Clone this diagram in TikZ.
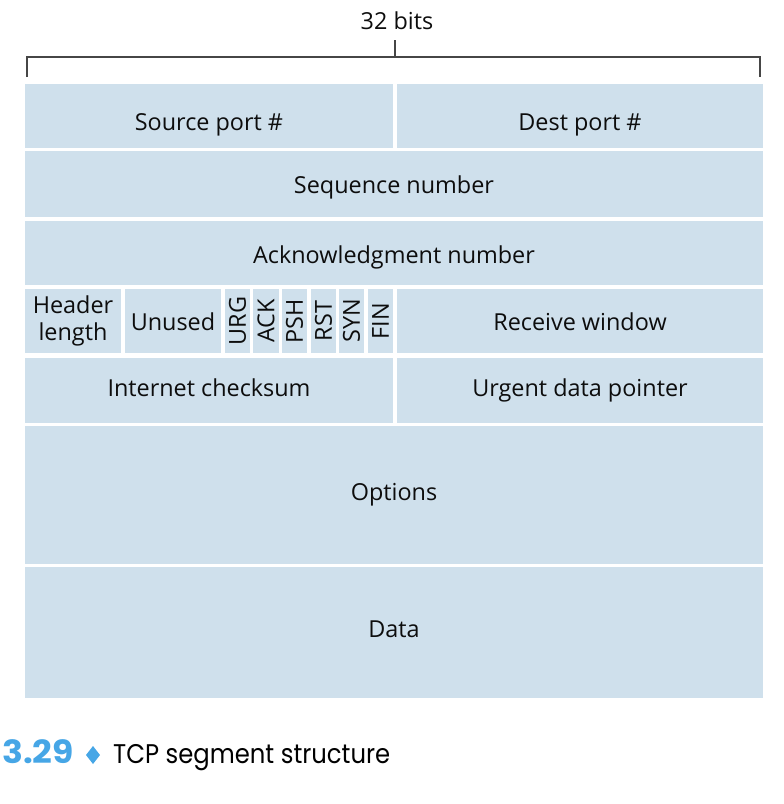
\documentclass[tikz,border=0pt]{standalone}
\usepackage{fontspec}
\setmainfont{Open Sans}
\newfontfamily\capfont{Poppins}
\definecolor{cellblue}{RGB}{207,224,236}
\definecolor{capblue}{RGB}{70,166,230}
\definecolor{linegray}{RGB}{70,70,70}
\begin{document}
\begin{tikzpicture}[x=1pt,y=-1pt,
  cell/.style={fill=cellblue,draw=none,inner sep=0pt,align=center,
    font=\fontsize{23.4}{27}\selectfont,text=black!95,
    text height=16.6pt,text depth=0pt},
  multi/.style={text height=,text depth=},
  flag/.style={cell,rotate=90},
  brk/.style={draw=linegray,line width=1.1pt}]
\useasboundingbox (0,0) rectangle (784,804);
% title and bracket
\node[font=\fontsize{23.4}{27}\selectfont,text=black!95] (title) at (397,21) {32 bits};
\coordinate (tick) at (395,40);
\coordinate (tickb) at (395,57);
\coordinate (bl) at (27,77);
\coordinate (blt) at (27,57);
\coordinate (br) at (760,77);
\coordinate (brt) at (760,57);
\draw[brk] (bl) -- (blt) -- (brt) -- (br);
\draw[brk] (tick) -- (tickb);
% rows
\node[cell,minimum width=368pt,minimum height=64pt,text height=28.6pt] (src) at (209,116) {Source port \#};
\node[cell,minimum width=366pt,minimum height=64pt,text height=28.6pt] (dst) at (580,116) {Dest port \#};
\node[cell,minimum width=738pt,minimum height=66pt,text height=18.6pt] (seq) at (394,184) {Sequence number};
\node[cell,minimum width=738pt,minimum height=64pt,text height=21.6pt] (ack) at (394,253) {Acknowledgment number};
\node[cell,multi,minimum width=96pt,minimum height=64pt] (hlen) at (73,321) {Header\\length};
\node[cell,minimum width=96pt,minimum height=64pt,text height=19.6pt] (unused) at (173,321) {Unused};
\node[flag,minimum height=25pt,minimum width=64pt] (urg) at (237.5,321) {URG};
\node[flag,minimum height=26pt,minimum width=64pt] (ackf) at (266,321) {ACK};
\node[flag,minimum height=25pt,minimum width=64pt] (psh) at (294.5,321) {PSH};
\node[flag,minimum height=25pt,minimum width=64pt] (rst) at (323.5,321) {RST};
\node[flag,minimum height=25pt,minimum width=64pt] (syn) at (351.5,321) {SYN};
\node[flag,minimum height=25pt,minimum width=64pt] (fin) at (380.5,321) {FIN};
\node[cell,minimum width=366pt,minimum height=64pt,text height=19.6pt] (rwin) at (580,321) {Receive window};
\node[cell,minimum width=368pt,minimum height=65pt,text depth=5pt] (cks) at (209,390.5) {Internet checksum};
\node[cell,minimum width=366pt,minimum height=65pt,text depth=5pt] (urgp) at (580,390.5) {Urgent data pointer};
\node[cell,minimum width=738pt,minimum height=138pt,text depth=6pt] (opts) at (394,495) {Options};
\node[cell,minimum width=738pt,minimum height=131pt,text depth=6pt] (data) at (394,632.5) {Data};
% caption
\node[anchor=base west,inner sep=0pt,text=capblue,font=\capfont\bfseries\fontsize{32}{36}\selectfont] (num) at (2,763) {\scalebox{1.08}[1]{3.29}};
\fill[capblue] (93,746) -- (100,755) -- (93,764) -- (86,755) -- cycle;
\node[anchor=base west,inner sep=0pt,font=\capfont\fontsize{27}{30}\selectfont] (captxt) at (113,763) {\scalebox{0.9}[1]{TCP segment structure}};
\end{tikzpicture}
\end{document}
